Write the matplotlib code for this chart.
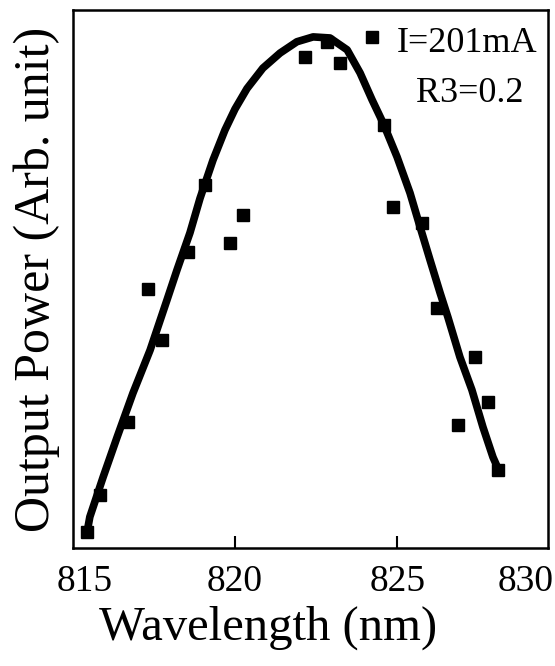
import matplotlib
matplotlib.use("Agg")
import matplotlib.pyplot as plt

# fitted curve (wavelength nm, arb. power)
fit_wl = [815.43, 815.52, 815.93, 816.36, 816.85, 817.38, 817.90, 818.21, 818.61, 818.92,
          819.32, 819.69, 820.00, 820.37, 820.86, 821.39, 821.91, 822.41, 822.93, 823.46,
          823.86, 824.23, 824.57, 825.00, 825.40, 825.71, 826.02, 826.33, 826.57, 826.94,
          827.31, 827.65, 827.96, 828.18]
fit_pw = [2.8, 5.8, 13.2, 20.6, 28.8, 36.8, 46.1, 51.7, 58.6, 65.0,
          72.1, 77.7, 81.6, 85.4, 89.2, 92.0, 94.1, 95.0, 94.8, 92.6,
          88.3, 83.3, 79.0, 72.7, 66.0, 59.7, 53.5, 47.4, 42.9, 35.5,
          29.4, 22.5, 16.9, 13.9]

# measured points
meas_wl = [815.43, 815.83, 816.70, 817.31, 817.75, 818.55, 819.07, 819.85, 820.25,
           822.16, 822.84, 823.24, 824.23, 824.60, 824.88, 825.77, 826.23, 826.88,
           827.41, 827.81, 828.12]
meas_pw = [3.0, 9.9, 23.4, 48.1, 38.7, 55.0, 67.5, 56.7, 61.9,
           91.3, 94.1, 90.1, 95.0, 78.6, 63.4, 60.4, 44.6, 22.9,
           35.5, 27.1, 14.5]

tick_labels = ["815", "820", "825", "830"]
tick_pos = [0.025, 0.341, 0.684, 0.952]  # where the labels sit along the axis

plt.rcParams['font.family'] = ['Liberation Serif', 'DejaVu Serif']

fig = plt.figure(figsize=(5.55, 6.66), dpi=100)
ax = fig.add_axes([0.1315, 0.177, 0.856, 0.808])

ax.plot(fit_wl, fit_pw, color="black", lw=5.5, solid_capstyle="butt", solid_joinstyle="round")
ax.plot(meas_wl, meas_pw, ls="none", marker="s", ms=8, color="black")

ax.set_xlim(815, 829.66)
ax.set_ylim(0, 100)
ax.set_xticks([820, 825])
ax.set_xticklabels([])
ax.set_yticks([])
ax.tick_params(axis="x", direction="in", length=9, width=1.5)
for s in ax.spines.values():
    s.set_linewidth(1.8)

for lab, p in zip(tick_labels, tick_pos):
    ax.text(p, -0.063, lab, transform=ax.transAxes, ha="center", va="center", fontsize=27)

ax.text(0.41, -0.148, "Wavelength (nm)", transform=ax.transAxes, ha="center", va="center",
        fontsize=35)
ax.text(-0.076, 0.5, "Output Power (Arb. unit)", transform=ax.transAxes, ha="center",
        va="center", rotation=90, fontsize=36)

ax.text(0.83, 0.937, "I=201mA", transform=ax.transAxes, ha="center", va="center", fontsize=26)
ax.text(0.836, 0.845, "R3=0.2", transform=ax.transAxes, ha="center", va="center", fontsize=26)

fig.savefig("out.png", dpi=100)
